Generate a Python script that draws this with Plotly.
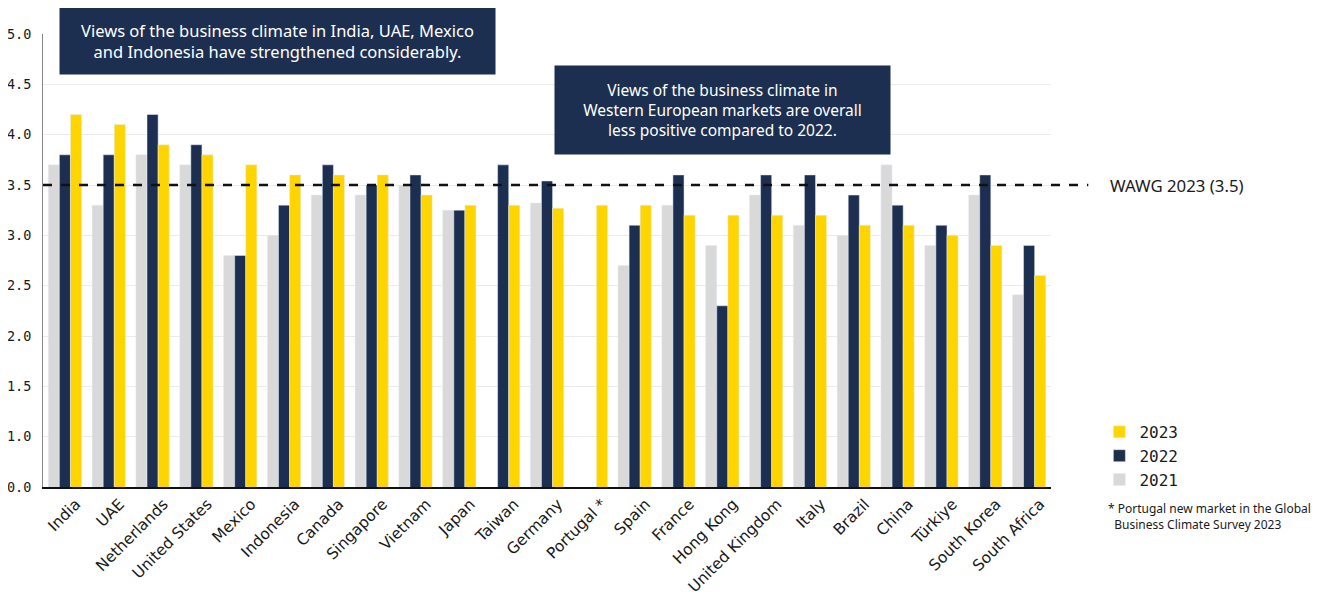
import plotly.graph_objects as go

countries = ["India", "UAE", "Netherlands", "United States", "Mexico", "Indonesia", "Canada",
             "Singapore", "Vietnam", "Japan", "Taiwan", "Germany", "Portugal *", "Spain", "France",
             "Hong Kong", "United Kingdom", "Italy", "Brazil", "China", "Türkiye", "South Korea",
             "South Africa"]
v2021 = [3.7, 3.3, 3.8, 3.7, 2.8, 3.0, 3.4, 3.4, 3.5, 3.25, None, 3.32, None, 2.7, 3.3,
         2.9, 3.4, 3.1, 3.0, 3.7, 2.9, 3.4, 2.41]
v2022 = [3.8, 3.8, 4.2, 3.9, 2.8, 3.3, 3.7, 3.5, 3.6, 3.25, 3.7, 3.54, None, 3.1, 3.6,
         2.3, 3.6, 3.6, 3.4, 3.3, 3.1, 3.6, 2.9]
v2023 = [4.2, 4.1, 3.9, 3.8, 3.7, 3.6, 3.6, 3.6, 3.4, 3.3, 3.3, 3.27, 3.3, 3.3, 3.2,
         3.2, 3.2, 3.2, 3.1, 3.1, 3.0, 2.9, 2.6]
wawg = 3.5
tick_vals = [0.5, 1.0, 1.5, 2.0, 2.5, 3.0, 3.5, 4.0, 4.5, 5.0]
tick_text = ["0.0", "1.0", "1.5", "2.0", "2.5", "3.0", "3.5", "4.0", "4.5", "5.0"]

GRAY = "#d9d9d9"
NAVY = "#1c2f50"
YELLOW = "#ffd500"

fig = go.Figure()
fig.add_trace(go.Bar(name="2021", x=countries, y=v2021, marker_color=GRAY))
fig.add_trace(go.Bar(name="2022", x=countries, y=v2022, marker_color=NAVY))
fig.add_trace(go.Bar(name="2023", x=countries, y=v2023, marker_color=YELLOW))

fig.add_shape(type="line", xref="paper", yref="y", x0=0, x1=1.037, y0=wawg, y1=wawg,
              line=dict(color="#111111", width=2.5, dash="dash"))

fig.add_annotation(xref="paper", yref="y", x=1.057, y=wawg, xanchor="left", yanchor="middle",
                   text="WAWG 2023 (3.5)", showarrow=False,
                   font=dict(family="Noto Sans", size=16.8, color="#1a1a1a"))

fig.add_annotation(xref="paper", yref="paper", x=1.055, y=-0.024, xanchor="left", yanchor="top",
                   align="left", showarrow=False,
                   text="* Portugal new market in the Global<br>  Business Climate Survey 2023",
                   font=dict(family="Noto Sans", size=12, color="#1a1a1a"))

fig.add_annotation(xref="paper", yref="paper", x=(277 - 43) / 1008, y=(487 - 41) / 453,
                   xanchor="center", yanchor="middle", showarrow=False, align="center",
                   text="Views of the business climate in India, UAE, Mexico<br>and Indonesia have strengthened considerably.",
                   font=dict(family="Noto Sans", size=16.5, color="white"),
                   bgcolor=NAVY, width=433, height=64)

fig.add_annotation(xref="paper", yref="paper", x=(722 - 43) / 1008, y=(487 - 110) / 453,
                   xanchor="center", yanchor="middle", showarrow=False, align="center",
                   text="Views of the business climate in<br>Western European markets are overall<br>less positive compared to 2022.",
                   font=dict(family="Noto Sans", size=15.5, color="white"),
                   bgcolor=NAVY, width=333, height=86)

# page body has an 8px margin, so the figure is 8px smaller and margins shifted
fig.update_layout(
    width=1318, height=591,
    margin=dict(l=35, r=275, t=26, b=112),
    paper_bgcolor="white", plot_bgcolor="white",
    barmode="group", bargap=0.24, bargroupgap=0,
    legend=dict(x=1.048, y=0.159, xanchor="left", yanchor="top", traceorder="reversed",
                font=dict(family="DejaVu Sans Mono", size=16, color="#1a1a1a"),
                itemwidth=30, tracegroupgap=0, bgcolor="rgba(0,0,0,0)"),
    xaxis=dict(tickangle=-45, tickfont=dict(family="DejaVu Sans", size=15.5, color="#1a1a1a"),
               showline=True, linecolor="#111111", linewidth=2, ticks="", showgrid=False,
               ticklabelshift=11, automargin=False),
    yaxis=dict(range=[0.5, 5.0], tickvals=tick_vals, ticktext=tick_text,
               tickfont=dict(family="DejaVu Sans Mono", size=13.5, color="#1a1a1a"),
               showgrid=True, gridcolor="#ebebeb", gridwidth=1, zeroline=False,
               showline=True, linecolor="#888888", linewidth=1, ticks="",
               ticklabelstandoff=8, automargin=False),
    showlegend=True,
)

fig.write_html("out.html")
